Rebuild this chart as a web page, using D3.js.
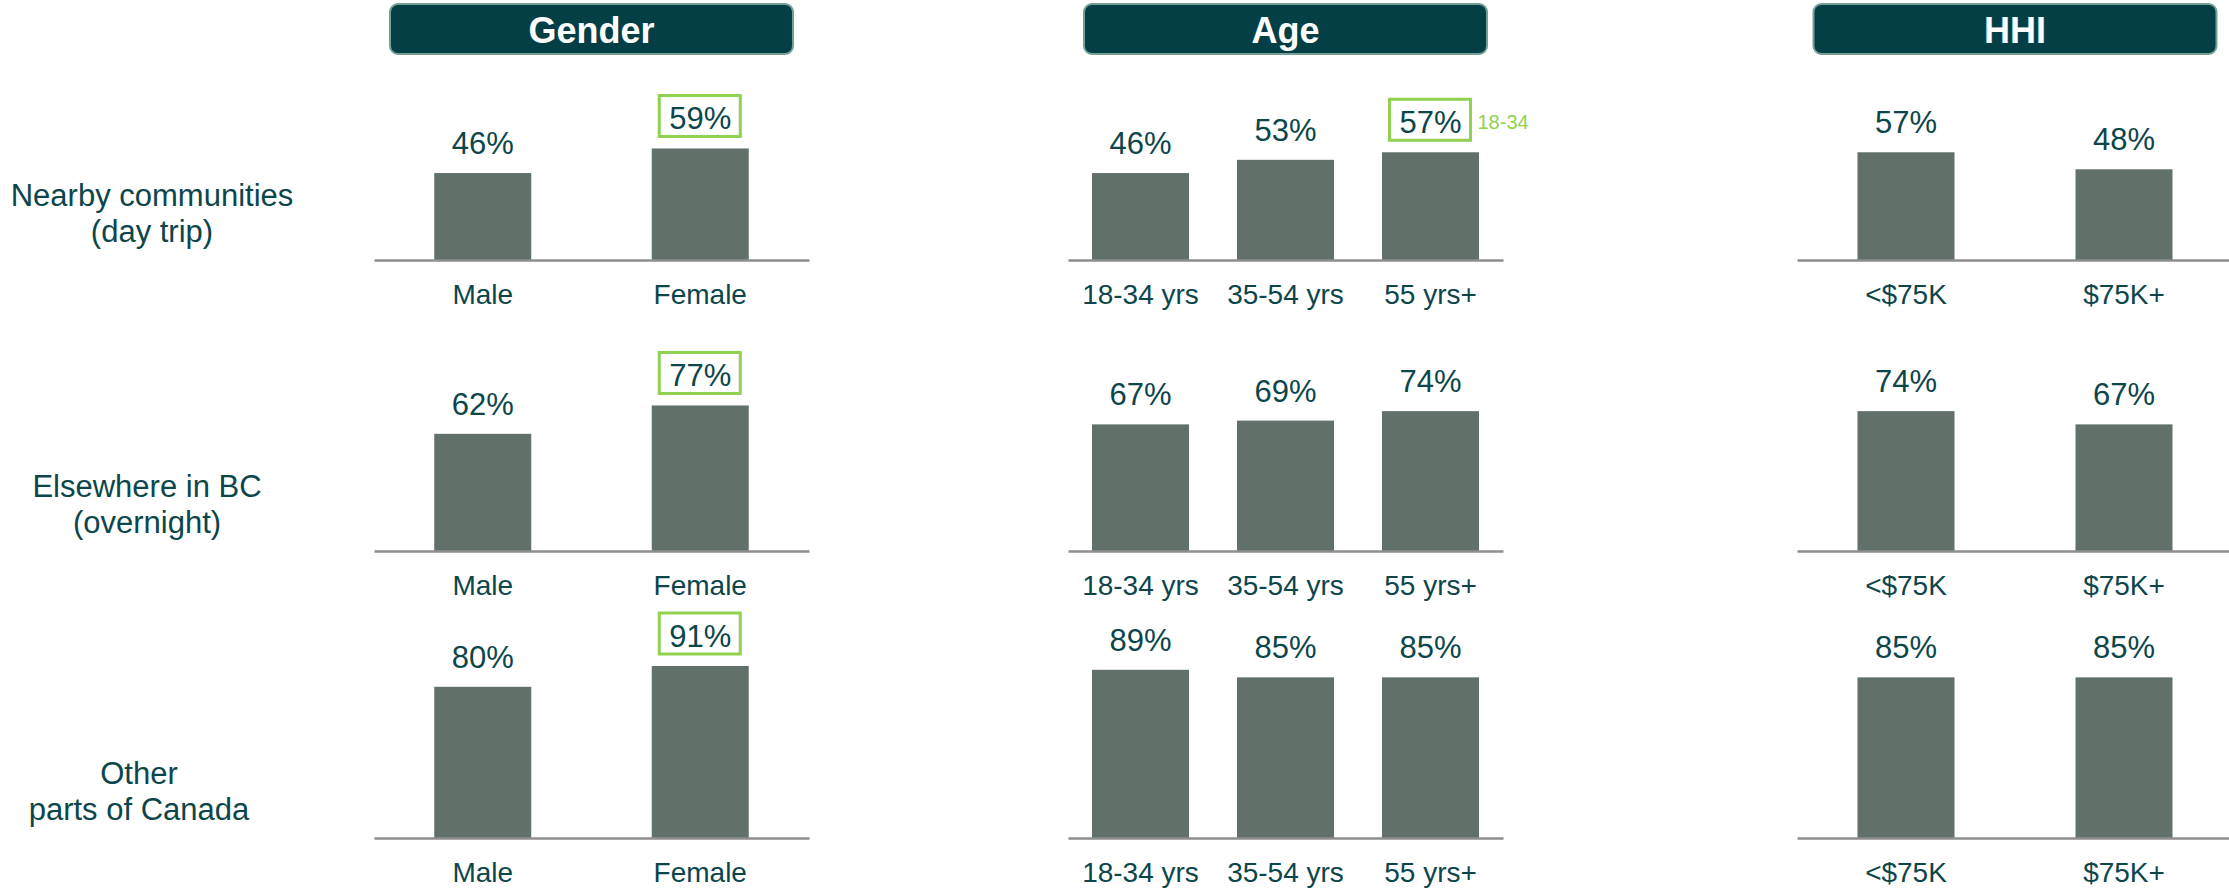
<!DOCTYPE html>
<html>
<head>
<meta charset="utf-8">
<script src="https://cdn.jsdelivr.net/npm/d3@7"></script>
<style>
  body { margin: 0; background: #fff; }
  svg text { font-family: "Liberation Sans", Arial, sans-serif; }
  .axis .domain { stroke: #8e8e8e; stroke-width: 2.5; }
  .axis text { fill: #0c464b; font-size: 28px; }
</style>
</head>
<body>
<div id="chart"></div>
<script>
// Row labels (two lines each)
const rowLabels = [
    ["Nearby communities", "(day trip)"],
    ["Elsewhere in BC", "(overnight)"],
    ["Other", "parts of Canada"]
];

// Categories per panel
const panelTitles = ["Gender", "Age", "HHI"];
const genderCats = ["Male", "Female"];
const ageCats = ["18-34 yrs", "35-54 yrs", "55 yrs+"];
const hhiCats = ["<$75K", "$75K+"];

// Values (%), one array per row
const genderValues = [[46, 59], [62, 77], [80, 91]];
const ageValues = [[46, 53, 57], [67, 69, 74], [89, 85, 85]];
const hhiValues = [[57, 48], [74, 67], [85, 85]];

// Highlighted (boxed) values: [panel, row, category, note]
const highlights = [
    ["Gender", 0, "Female", ""],
    ["Gender", 1, "Female", ""],
    ["Gender", 2, "Female", ""],
    ["Age", 0, "55 yrs+", "18-34"]
];

// Layout
const W = 2229, H = 890;
const rowBase = [260, 551, 838];
const rowLabelX = [152, 147, 139];
const barsPx = 189; // pixels for 100%
const barW = 97;
const panelRanges = [[374, 809], [1068, 1503], [1797, 2233]];
const headerW = 403;

const textColor = "#0c464b";
const barColor = "#617068";
const green = "#92d050";

const panels = [
    { title: panelTitles[0], cats: genderCats, values: genderValues, range: panelRanges[0] },
    { title: panelTitles[1], cats: ageCats, values: ageValues, range: panelRanges[1] },
    { title: panelTitles[2], cats: hhiCats, values: hhiValues, range: panelRanges[2] }
];

const svg = d3.select("#chart")
    .append("svg")
    .attr("width", W)
    .attr("height", H);

// Row labels
rowLabels.forEach((lines, r) => {
    const t = svg.append("text")
        .attr("text-anchor", "middle")
        .attr("fill", textColor)
        .style("font-size", "31px");
    lines.forEach((line, i) => {
        t.append("tspan")
            .attr("x", rowLabelX[r])
            .attr("y", rowBase[r] - 54 + i * 36)
            .text(line);
    });
});

panels.forEach(p => {
    // same bar width in every panel, outer padding = half the gap
    const step = (p.range[1] - p.range[0]) / p.cats.length;
    const pad = 1 - barW / step;
    const x = d3.scaleBand()
        .domain(p.cats)
        .range(p.range)
        .paddingInner(pad)
        .paddingOuter(pad / 2);

    // Header
    const cx = (p.range[0] + p.range[1]) / 2;
    svg.append("rect")
        .attr("x", cx - headerW / 2)
        .attr("y", 4)
        .attr("width", headerW)
        .attr("height", 50)
        .attr("rx", 8)
        .attr("fill", "#043f46")
        .attr("stroke", "#76a096")
        .attr("stroke-width", 2);
    svg.append("text")
        .attr("x", cx)
        .attr("y", 43)
        .attr("text-anchor", "middle")
        .attr("fill", "#fff")
        .style("font-size", "36px")
        .style("font-weight", "bold")
        .text(p.title);

    p.values.forEach((vals, r) => {
        const y = d3.scaleLinear()
            .domain([0, 100])
            .range([rowBase[r], rowBase[r] - barsPx]);

        const g = svg.append("g");
        const data = p.cats.map((c, i) => ({ cat: c, value: vals[i] }));

        g.selectAll(".bar")
            .data(data)
            .enter()
            .append("rect")
            .attr("class", "bar")
            .attr("x", d => x(d.cat))
            .attr("y", d => y(d.value))
            .attr("width", x.bandwidth())
            .attr("height", d => y(0) - y(d.value))
            .attr("fill", barColor);

        g.selectAll(".val")
            .data(data)
            .enter()
            .append("text")
            .attr("class", "val")
            .attr("x", d => x(d.cat) + x.bandwidth() / 2)
            .attr("y", d => y(d.value) - 19)
            .attr("text-anchor", "middle")
            .attr("fill", textColor)
            .style("font-size", "31px")
            .text(d => d.value + "%");

        // Highlight boxes
        highlights
            .filter(h => h[0] === p.title && h[1] === r)
            .forEach(h => {
                const d = data.find(e => e.cat === h[2]);
                const bx = x(d.cat) + x.bandwidth() / 2;
                const base = y(d.value) - 19;
                g.append("rect")
                    .attr("x", bx - 41)
                    .attr("y", base - 34)
                    .attr("width", 81)
                    .attr("height", 41)
                    .attr("fill", "none")
                    .attr("stroke", green)
                    .attr("stroke-width", 3);
                if (h[3]) {
                    g.append("text")
                        .attr("x", bx + 47)
                        .attr("y", base - 4)
                        .attr("fill", green)
                        .style("font-size", "20px")
                        .text(h[3]);
                }
            });

        // Axis
        svg.append("g")
            .attr("class", "axis")
            .attr("transform", `translate(0,${rowBase[r]})`)
            .call(d3.axisBottom(x).tickSize(0).tickPadding(24));
    });
});
</script>
</body>
</html>
